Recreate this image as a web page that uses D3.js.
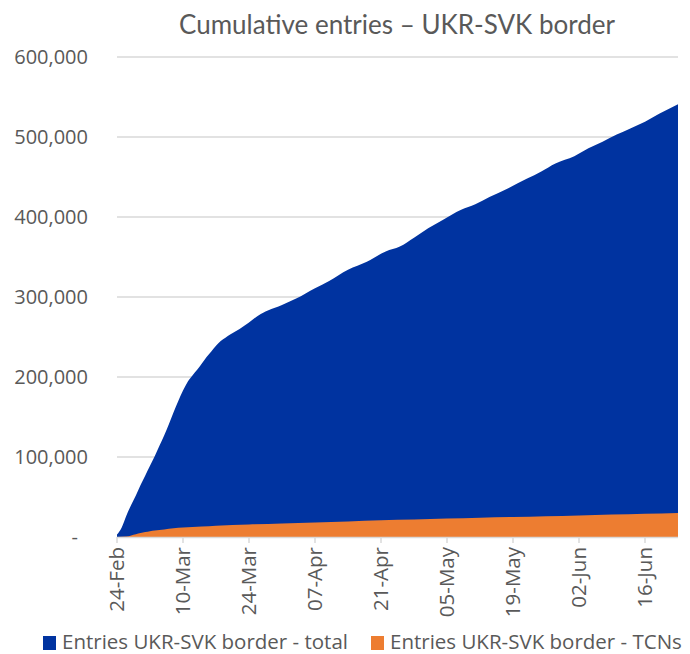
<html>
  <head>
    <style>
      body
      {
        margin     : 0;
        background : #ffffff;
      }
      text
      {
        font-family : "Open Sans", sans-serif;
        fill        : #595959;
      }
    </style>
  </head>
  <body>
    <svg height="654" width="690"></svg>
    <script src="https://d3js.org/d3.v7.min.js"></script>
    <script>
      // day offsets from 24-Feb-2022 and the values
      var totalDays   = [0, 1, 2, 3, 4, 5, 6, 7, 8, 9, 10, 11, 12, 13, 14, 15, 16, 17, 18, 19, 20, 21, 22, 23, 24,
                         26, 28, 30, 32, 35, 38, 42, 45, 49, 53, 57, 60, 63, 66, 69, 73, 76, 79, 83, 87, 90, 93,
                         97, 100, 103, 106, 109, 112, 115, 119];
      var totalValues = [3000, 12000, 27000, 40000, 52000, 65000, 77000, 89000, 101000, 114000, 127000, 141000,
                         156000, 170000, 183000, 194000, 202000, 209000, 217000, 225000, 232000, 239000, 245000,
                         249000, 253000, 260000, 268000, 277000, 283000, 290000, 298000, 311000, 320000, 334000,
                         344000, 357000, 363000, 374000, 386000, 396000, 409000, 416000, 425000, 436000, 448000,
                         457000, 467000, 476000, 486000, 494000, 503000, 511000, 519000, 529000, 541000];

      var tcnDays     = [0, 2, 3, 4, 5, 6, 7, 8, 10, 12, 14, 18, 21, 28, 35, 42, 49, 56, 63, 70, 77, 84, 91, 98,
                         105, 112, 119];
      var tcnValues   = [0, 500, 2000, 3500, 5000, 6200, 7200, 8000, 9500, 10800, 11800, 13000, 14000, 15600,
                         16800, 18000, 19500, 21000, 22000, 23000, 24000, 25000, 26000, 27000, 28000, 29000, 30000];

      var tickLabels  = ["24-Feb", "10-Mar", "24-Mar", "07-Apr", "21-Apr", "05-May", "19-May", "02-Jun", "16-Jun"];
      var yTicks      = [0, 100000, 200000, 300000, 400000, 500000, 600000];
      var seriesNames = ["Entries UKR-SVK border - total", "Entries UKR-SVK border - TCNs"];
      var colors      = ["#0033a0", "#ed7d31"];

      var start = new Date(Date.UTC(2022, 1, 24));
      function toDate(d) { return d3.utcDay.offset(start, d); }

      var svg = d3.select("svg");
      var plotLeft = 117, plotRight = 678, plotTop = 57, plotBottom = 537;

      var x = d3.scaleUtc()
          .domain([start, toDate(119)])
          .range([plotLeft, plotRight]);
      var y = d3.scaleLinear()
          .domain([0, 600000])
          .range([plotBottom, plotTop]);

      // gridlines
      svg.append("g")
          .selectAll("line")
          .data(yTicks.slice(1))
          .enter().append("line")
          .attr("x1", plotLeft).attr("x2", plotRight)
          .attr("y1", function(d) { return y(d); })
          .attr("y2", function(d) { return y(d); })
          .attr("stroke", "#d9d9d9")
          .attr("stroke-width", 1.5);

      var area = d3.area()
          .curve(d3.curveMonotoneX)
          .x(function(d) { return x(toDate(d[0])); })
          .y0(y(0))
          .y1(function(d) { return y(d[1]); });

      svg.append("path")
          .datum(d3.zip(totalDays, totalValues))
          .attr("fill", colors[0])
          .attr("d", area);
      svg.append("path")
          .datum(d3.zip(tcnDays, tcnValues))
          .attr("fill", colors[1])
          .attr("d", area);

      // y labels
      svg.append("g")
          .selectAll("text")
          .data(yTicks)
          .enter().append("text")
          .attr("x", function(d) { return d === 0 ? 78 : 88; })
          .attr("y", function(d) { return y(d); })
          .attr("dy", "0.35em")
          .attr("text-anchor", "end")
          .style("font-size", "20px")
          .text(function(d) { return d === 0 ? "-" : d3.format(",")(d); });

      // x axis
      var tickDates = tickLabels.map(function(t, i) { return toDate(i * 14); });
      var xAxis = svg.append("g");
      xAxis.append("line")
          .attr("x1", plotLeft).attr("x2", plotRight)
          .attr("y1", plotBottom + 0.5).attr("y2", plotBottom + 0.5)
          .attr("stroke", "#d9d9d9")
          .attr("stroke-width", 1.5);
      xAxis.selectAll(".tick")
          .data(tickDates)
          .enter().append("line")
          .attr("x1", function(d) { return x(d); })
          .attr("x2", function(d) { return x(d); })
          .attr("y1", plotBottom).attr("y2", plotBottom + 6)
          .attr("stroke", "#d9d9d9")
          .attr("stroke-width", 1.5);
      xAxis.selectAll("text")
          .data(tickDates)
          .enter().append("text")
          .attr("transform", function(d) { return "translate(" + x(d) + "," + 547 + ") rotate(-90)"; })
          .attr("dy", "0.35em")
          .attr("text-anchor", "end")
          .style("font-size", "20.5px")
          .text(function(d, i) { return tickLabels[i]; });

      // title
      svg.append("text")
          .attr("x", 397)
          .attr("y", 34)
          .attr("text-anchor", "middle")
          .style("font-family", "Lato, sans-serif")
          .style("font-size", "26px")
          .text("Cumulative entries \u2013 UKR-SVK border");

      // legend
      var legend = svg.append("g")
          .selectAll("g")
          .data(seriesNames)
          .enter().append("g")
          .attr("transform", function(d, i) { return "translate(" + (i === 0 ? 43 : 371) + ",636)"; });
      legend.append("rect")
          .attr("width", 13).attr("height", 14)
          .attr("fill", function(d, i) { return colors[i]; });
      legend.append("text")
          .attr("x", 19)
          .attr("y", 13)
          .style("font-size", "20.5px")
          .text(function(d) { return d; });
    </script>
  </body>
</html>
